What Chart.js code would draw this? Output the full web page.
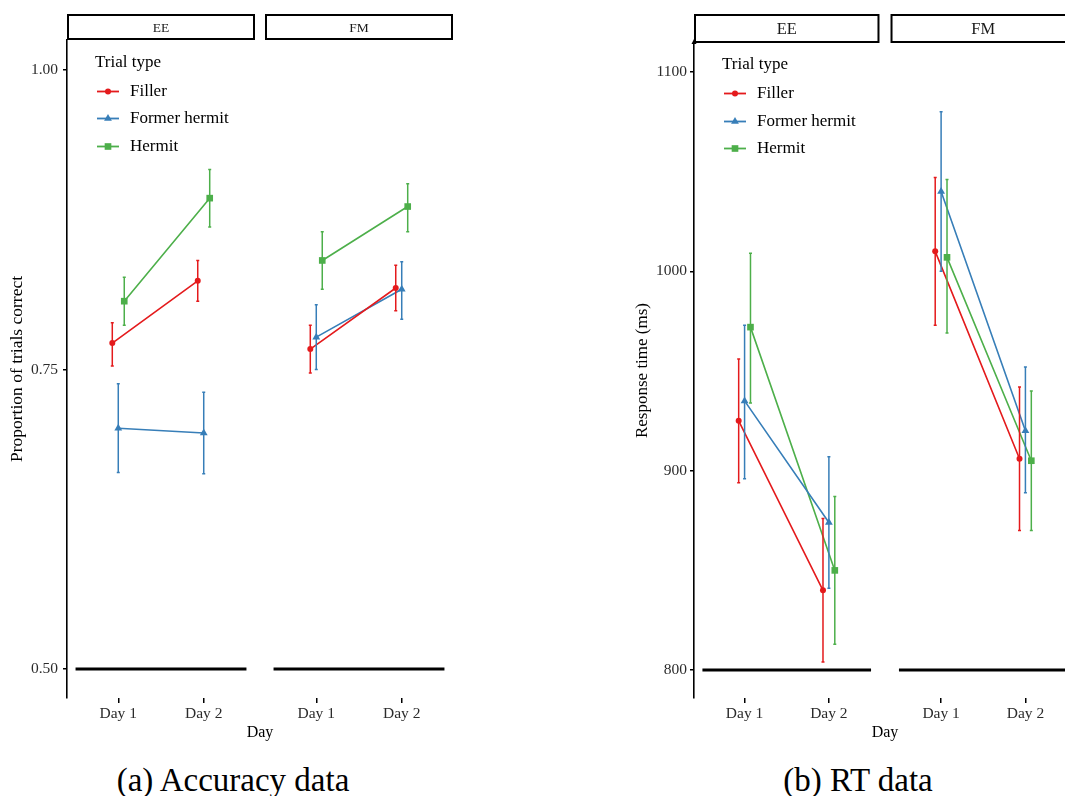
<!DOCTYPE html>
<html>
<head>
<meta charset="utf-8">
<script src="https://cdn.jsdelivr.net/npm/chart.js@4.4.0/dist/chart.umd.min.js"></script>
<style>
  body { margin: 0; width: 1065px; height: 796px; overflow: hidden; background: #fff; position: relative; font-family: "Liberation Serif", serif; }
  .fig { position: absolute; top: 0; height: 760px; width: 470px; }
  .caption { position: absolute; top: 761px; width: 400px; text-align: center; font-size: 33px; line-height: 38px; color: #000; }
</style>
</head>
<body>
<div class="fig" style="left:0"><canvas id="accChart"></canvas></div>
<div class="fig" style="left:625px"><canvas id="rtChart"></canvas></div>
<div class="caption" style="left:33px">(a) Accuracy data</div>
<div class="caption" style="left:658px">(b) RT data</div>
<script>
// Categories
const days = ['Day 1', 'Day 2'];
const groups = ['EE', 'FM'];
const trialTypes = ['Filler', 'Former hermit', 'Hermit'];

// Accuracy (proportion correct), order: EE Day 1, EE Day 2, FM Day 1, FM Day 2
const accFiller     = [0.772, 0.824, 0.767, 0.818];
const accFillerLo   = [0.753, 0.807, 0.747, 0.799];
const accFillerHi   = [0.789, 0.841, 0.787, 0.837];
const accFormer     = [0.701, 0.697, 0.777, 0.817];
const accFormerLo   = [0.664, 0.663, 0.750, 0.792];
const accFormerHi   = [0.738, 0.731, 0.804, 0.840];
const accHermit     = [0.807, 0.893, 0.841, 0.886];
const accHermitLo   = [0.787, 0.869, 0.817, 0.865];
const accHermitHi   = [0.827, 0.917, 0.865, 0.905];
const accTicks = [0.50, 0.75, 1.00];

// Response times (ms), same order
const rtFiller      = [925, 840, 1010, 906];
const rtFillerLo    = [894, 804, 973, 870];
const rtFillerHi    = [956, 876, 1047, 942];
const rtFormer      = [935, 874, 1040, 920];
const rtFormerLo    = [896, 841, 1000, 889];
const rtFormerHi    = [973, 907, 1080, 952];
const rtHermit      = [972, 850, 1007, 905];
const rtHermitLo    = [934, 813, 969, 870];
const rtHermitHi    = [1009, 887, 1046, 940];
const rtTicks = [800, 900, 1000, 1100];

// Styles
const colors = ['#E41A1C', '#377EB8', '#4DAF4A'];
const markers = ['circle', 'triangle', 'rect'];
const radii = [3, 4.5, 4.7];
const dodge = [-0.07, 0, 0.07];
const serif = '"Liberation Serif", serif';

function drawMarker(ctx, style, x, y, r) {
    ctx.beginPath();
    if (style === 'circle') {
        ctx.arc(x, y, r, 0, Math.PI * 2);
    } else if (style === 'triangle') {
        const a = r * Math.sin(Math.PI / 3);
        ctx.moveTo(x, y - r);
        ctx.lineTo(x + a, y + r / 2);
        ctx.lineTo(x - a, y + r / 2);
        ctx.closePath();
    } else {
        const s = r * Math.SQRT1_2;
        ctx.rect(x - s, y - s, 2 * s, 2 * s);
    }
    ctx.fill();
}

// error bars, facet strips and legend
const facetPlugin = {
    id: 'facets',
    afterDatasetsDraw(chart) {
        const ctx = chart.ctx;
        const xs = chart.scales.x, ys = chart.scales.y;
        ctx.save();
        chart.data.datasets.forEach(ds => {
            if (!ds.errLo) return;
            ctx.strokeStyle = ds.borderColor;
            ctx.lineWidth = 1.5;
            ds.data.forEach((pt, i) => {
                if (pt.y === null) return;
                const x = xs.getPixelForValue(pt.x);
                const y0 = ys.getPixelForValue(ds.errLo[i]);
                const y1 = ys.getPixelForValue(ds.errHi[i]);
                ctx.beginPath();
                ctx.moveTo(x, y0); ctx.lineTo(x, y1);
                ctx.moveTo(x - 1.5, y0); ctx.lineTo(x + 1.5, y0);
                ctx.moveTo(x - 1.5, y1); ctx.lineTo(x + 1.5, y1);
                ctx.stroke();
            });
        });
        ctx.restore();
    },
    afterDraw(chart, args, opts) {
        const ctx = chart.ctx;
        const xs = chart.scales.x;
        const area = chart.chartArea;
        ctx.save();
        // strips
        groups.forEach((g, p) => {
            const x0 = xs.getPixelForValue(0.4 + p * opts.shift);
            const x1 = xs.getPixelForValue(2.6 + p * opts.shift);
            const h = opts.stripH;
            ctx.strokeStyle = '#000';
            ctx.lineWidth = 2;
            ctx.strokeRect(x0 + 1, area.top - h + 1, x1 - x0 - 2, h - 2);
            ctx.fillStyle = '#1a1a1a';
            ctx.font = opts.stripFont + 'px ' + serif;
            ctx.textAlign = 'center';
            ctx.textBaseline = 'middle';
            ctx.fillText(g, (x0 + x1) / 2, area.top - h / 2 + 1);
        });
        // small arrow head on top of the y axis
        if (opts.arrow) {
            ctx.fillStyle = '#000';
            ctx.beginPath();
            ctx.moveTo(area.left, area.top - 4);
            ctx.lineTo(area.left + 2.5, area.top + 1);
            ctx.lineTo(area.left - 2.5, area.top + 1);
            ctx.closePath();
            ctx.fill();
        }
        // legend
        const lx = area.left + 28, ly = area.top + 1.5;
        ctx.font = '17px ' + serif;
        ctx.textAlign = 'left';
        ctx.textBaseline = 'middle';
        ctx.fillStyle = '#000';
        ctx.fillText('Trial type', lx, ly + opts.legTitle);
        trialTypes.forEach((t, s) => {
            const y = ly + opts.legRows[s];
            ctx.strokeStyle = colors[s];
            ctx.fillStyle = colors[s];
            ctx.lineWidth = 1.8;
            ctx.beginPath();
            ctx.moveTo(lx + 2, y); ctx.lineTo(lx + 24, y);
            ctx.stroke();
            drawMarker(ctx, markers[s], lx + 13, y, radii[s]);
            ctx.fillStyle = '#000';
            ctx.fillText(t, lx + 35, y);
        });
        ctx.restore();
    }
};

function buildChart(canvasId, spec) {
    const shift = 2.2 + spec.gap;
    const datasets = trialTypes.map((name, s) => {
        const data = [], lo = [], hi = [];
        groups.forEach((g, p) => {
            if (p > 0) { data.push({ x: p * shift + 0.3, y: null }); lo.push(null); hi.push(null); }
            days.forEach((d, di) => {
                const k = p * days.length + di;
                data.push({ x: di + 1 + p * shift + dodge[s], y: spec.mean[s][k] });
                lo.push(spec.lo[s][k]);
                hi.push(spec.hi[s][k]);
            });
        });
        return {
            label: name, data, errLo: lo, errHi: hi,
            borderColor: colors[s], backgroundColor: colors[s], borderWidth: 1.6,
            pointStyle: markers[s], pointRadius: radii[s], pointBorderWidth: 0,
            tension: 0, spanGaps: false
        };
    });
    // thick reference line at the bottom of each panel
    const base = [];
    groups.forEach((g, p) => {
        if (p > 0) base.push({ x: p * shift + 0.3, y: null });
        base.push({ x: 0.5 + p * shift, y: spec.baseline }, { x: 2.5 + p * shift, y: spec.baseline });
    });
    datasets.push({ label: 'base', data: base, borderColor: '#000', borderWidth: 3, pointRadius: 0, spanGaps: false });

    return new Chart(document.getElementById(canvasId), {
        type: 'line',
        data: { datasets },
        plugins: [facetPlugin],
        options: {
            responsive: true,
            maintainAspectRatio: false,
            animation: false,
            events: [],
            layout: { padding: spec.padding },
            plugins: {
                legend: { display: false },
                tooltip: { enabled: false },
                facets: { shift, stripH: spec.stripH, stripFont: spec.stripFont, legTitle: spec.legTitle, legRows: spec.legRows, arrow: spec.arrow }
            },
            scales: {
                x: {
                    type: 'linear', min: 0.4, max: 2.6 + shift,
                    afterBuildTicks(scale) {
                        scale.ticks = groups.flatMap((g, p) => days.map((d, di) => ({ value: di + 1 + p * shift })));
                    },
                    afterFit(scale) { scale.height = 50; },
                    ticks: { callback: (v, i) => days[i % days.length], autoSkip: false, maxRotation: 0, padding: 2, color: '#2b2b2b', font: { family: serif, size: 15.5 } },
                    grid: { drawOnChartArea: false, drawTicks: true, tickLength: 5, color: '#000', lineWidth: 1.5 },
                    border: { display: false },
                    title: { display: true, text: 'Day', color: '#000', font: { family: serif, size: 16 }, padding: { top: 0, bottom: 6 } }
                },
                y: {
                    type: 'linear', min: spec.ymin, max: spec.ymax,
                    afterBuildTicks(scale) { scale.ticks = spec.ticks.map(v => ({ value: v })); },
                    afterFit(scale) { scale.width = spec.yWidth; },
                    ticks: { callback: spec.fmt, padding: spec.tickPad, color: '#2b2b2b', font: { family: serif, size: 15.5 } },
                    grid: { drawOnChartArea: false, drawTicks: true, tickLength: 4, color: '#000', lineWidth: 1.5 },
                    border: { display: true, color: '#000', width: 1.6 },
                    title: { display: true, text: spec.yTitle, color: '#000', font: { family: serif, size: spec.yTitleSize }, padding: { top: 7, bottom: 0 } }
                }
            }
        }
    });
}

buildChart('accChart', {
    mean: [accFiller, accFormer, accHermit],
    lo: [accFillerLo, accFormerLo, accHermitLo],
    hi: [accFillerHi, accFormerHi, accHermitHi],
    ticks: accTicks, fmt: v => v.toFixed(2),
    ymin: 0.4758, ymax: 1.025, baseline: 0.5,
    gap: 0.117, yWidth: 67, tickPad: 5,
    padding: { left: 0, top: 40, right: 17, bottom: 12 },
    yTitle: 'Proportion of trials correct', yTitleSize: 17.5,
    stripH: 26, stripFont: 13.5, legTitle: 21, legRows: [50, 77, 105], arrow: false
});

buildChart('rtChart', {
    mean: [rtFiller, rtFormer, rtHermit],
    lo: [rtFillerLo, rtFormerLo, rtHermitLo],
    hi: [rtFillerHi, rtFormerHi, rtHermitHi],
    ticks: rtTicks, fmt: v => String(v),
    ymin: 786, ymax: 1114.5, baseline: 800,
    gap: 0.131, yWidth: 69, tickPad: 3,
    padding: { left: 0, top: 43, right: 19, bottom: 12 },
    yTitle: 'Response time (ms)', yTitleSize: 17,
    stripH: 29, stripFont: 16.5, legTitle: 20, legRows: [49, 77, 104], arrow: true
});
</script>
</body>
</html>
